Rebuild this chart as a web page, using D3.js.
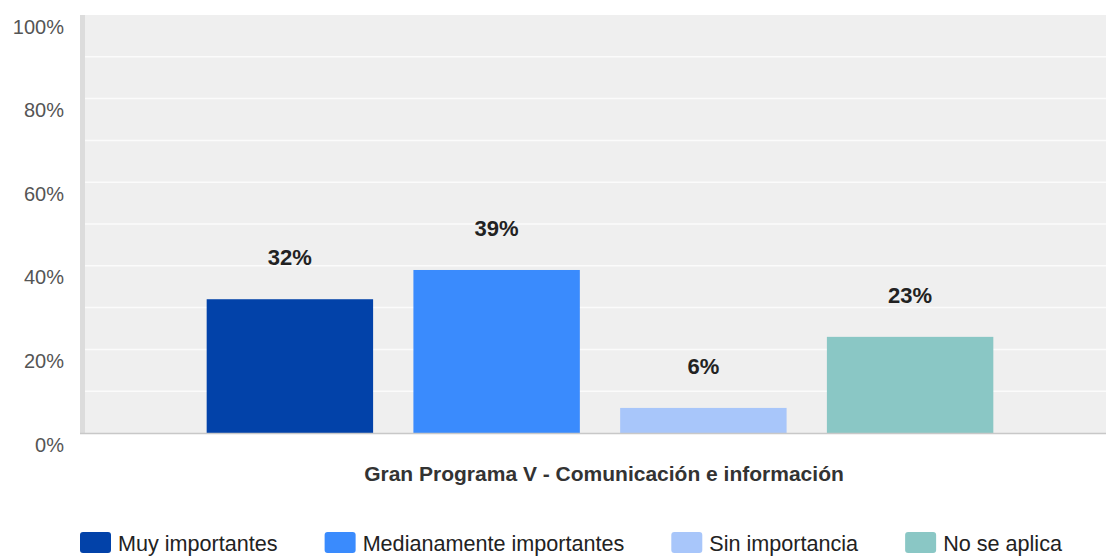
<!DOCTYPE html>
<html>
<head>
<meta charset="utf-8">
<script src="https://cdn.jsdelivr.net/npm/d3@7"></script>
<style>
  html, body { margin: 0; padding: 0; background: #ffffff; }
  svg { display: block; font-family: "Liberation Sans", Arial, sans-serif; }
</style>
</head>
<body>
<svg id="chart" width="1106" height="556"></svg>
<script>
const categories = ["Muy importantes", "Medianamente importantes", "Sin importancia", "No se aplica"];
const values = [32, 39, 6, 23];
const colors = ["#0242a9", "#3a8bfd", "#a8c6fa", "#8ac7c5"];
const yTicks = [0, 20, 40, 60, 80, 100];
const gridTicks = [10, 20, 30, 40, 50, 60, 70, 80, 90];
const xTitle = "Gran Programa V - Comunicación e información";

const svg = d3.select("#chart");
const plot = { left: 80, right: 1106, top: 15, bottom: 433 };

const y = d3.scaleLinear().domain([0, 100]).range([plot.bottom, plot.top]);
const x = d3.scaleBand().domain(categories).range([186, 1014]).paddingInner(0.195).paddingOuter(0.1);

// plot background
svg.append("rect").attr("x", plot.left).attr("y", plot.top)
  .attr("width", plot.right - plot.left).attr("height", plot.bottom - plot.top)
  .attr("fill", "#efefef");
// left border
svg.append("rect").attr("x", plot.left).attr("y", plot.top)
  .attr("width", 5).attr("height", plot.bottom - plot.top).attr("fill", "#dcdcdc");

// gridlines
svg.append("g").selectAll("line").data(gridTicks).join("line")
  .attr("x1", plot.left + 5).attr("x2", plot.right)
  .attr("y1", d => y(d)).attr("y2", d => y(d))
  .attr("stroke", "#fbfbfb").attr("stroke-width", 1.5);

// bars
svg.append("g").selectAll("rect").data(values).join("rect")
  .attr("x", (d, i) => x(categories[i]))
  .attr("y", d => y(d))
  .attr("width", x.bandwidth())
  .attr("height", d => y(0) - y(d))
  .attr("fill", (d, i) => colors[i]);

// baseline
svg.append("line").attr("x1", plot.left).attr("x2", plot.right)
  .attr("y1", plot.bottom + 0.5).attr("y2", plot.bottom + 0.5)
  .attr("stroke", "#c8c8c8").attr("stroke-width", 1.5);

// y axis labels
const yAxis = d3.axisLeft(y).tickValues(yTicks).tickFormat(d => d + "%").tickSize(0).tickPadding(0);
const gy = svg.append("g").attr("transform", "translate(64,0)").call(yAxis);
gy.select(".domain").remove();
gy.selectAll("text")
  .attr("dy", null).attr("y", 18)
  .attr("font-size", 20).attr("fill", "#555")
  .attr("font-family", "Liberation Sans, Arial, sans-serif");

// value labels
svg.append("g").selectAll("text").data(values).join("text")
  .attr("x", (d, i) => x(categories[i]) + x.bandwidth() / 2)
  .attr("y", d => y(d) - 34)
  .attr("text-anchor", "middle")
  .attr("font-size", 22).attr("font-weight", "bold").attr("fill", "#222")
  .text(d => d + "%");

// x title
svg.append("text").attr("x", 604).attr("y", 481)
  .attr("text-anchor", "middle").attr("font-size", 21).attr("font-weight", "bold")
  .attr("fill", "#333").text(xTitle);

// legend
const lg = svg.append("g");
let lx = 80;
categories.forEach((c, i) => {
  lg.append("rect").attr("x", lx).attr("y", 532).attr("width", 31).attr("height", 21)
    .attr("rx", 3).attr("fill", colors[i]);
  const t = lg.append("text").attr("x", lx + 38).attr("y", 551)
    .attr("font-size", 21.6).attr("fill", "#222").text(c);
  const w = t.node().getComputedTextLength();
  lx = lx + 38 + w + 47;
});
</script>
</body>
</html>
